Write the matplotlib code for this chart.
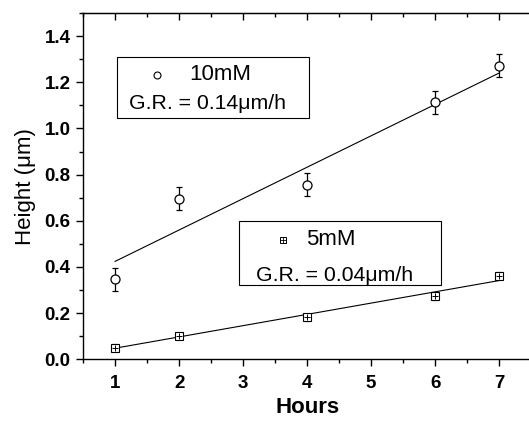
import numpy as np
import matplotlib.pyplot as plt
from matplotlib.patches import Rectangle
from matplotlib.ticker import MultipleLocator

plt.rcParams['font.family'] = ['Liberation Sans', 'DejaVu Sans']

# data
hours = [1, 2, 4, 6, 7]
h10 = [0.347, 0.696, 0.756, 1.114, 1.272]
e10 = [0.05, 0.05, 0.05, 0.05, 0.05]
h5 = [0.05, 0.101, 0.182, 0.272, 0.362]
e5 = [0.015, 0.015, 0.015, 0.015, 0.015]

# linear fits (end points)
fit_x = [1, 7]
fit10 = [0.424, 1.24]
fit5 = [0.048, 0.341]

fig = plt.figure(figsize=(5.29, 4.21), dpi=100)
ax = fig.add_axes([0.157, 0.1466, 0.847, 0.8225])

ax.errorbar(hours, h10, yerr=e10, fmt='o', mfc='white', mec='black', ms=6.5,
            mew=0.9, ecolor='black', elinewidth=0.9, capsize=2.5, capthick=0.9)
ax.errorbar(hours, h5, yerr=e5, fmt='s', mfc='white', mec='black', ms=5.5,
            mew=0.8, ecolor='black', elinewidth=0.9, capsize=2.5, capthick=0.9)
ax.plot(hours, h5, linestyle='none', marker='+', color='black', ms=5,
        mew=0.7, zorder=4)
ax.plot(fit_x, fit10, color='black', lw=0.8)
ax.plot(fit_x, fit5, color='black', lw=0.8)

ax.set_xlim(0.5, 7.5)
ax.set_ylim(0, 1.5)
ax.set_xticks([1, 2, 3, 4, 5, 6, 7])
ax.set_yticks([0.0, 0.2, 0.4, 0.6, 0.8, 1.0, 1.2, 1.4])
ax.set_yticklabels(['0.0', '0.2', '0.4', '0.6', '0.8', '1.0', '1.2', '1.4'])
ax.xaxis.set_minor_locator(MultipleLocator(0.5))
ax.yaxis.set_minor_locator(MultipleLocator(0.1))
ax.tick_params(axis='x', which='both', direction='out', top=False, pad=6)
ax.tick_params(axis='y', which='both', direction='out', right=False, pad=4)
ax.tick_params(which='major', length=5, width=1)
ax.tick_params(which='minor', length=3, width=1)
for s in ax.spines.values():
    s.set_linewidth(1)

# top axis with inward ticks
sec = ax.secondary_xaxis('top')
sec.set_xticks([1, 2, 3, 4, 5, 6, 7])
sec.xaxis.set_minor_locator(MultipleLocator(0.5))
sec.tick_params(which='both', direction='in', labeltop=False)
sec.tick_params(which='major', length=5, width=1)
sec.tick_params(which='minor', length=3, width=1)

for lab in ax.get_xticklabels() + ax.get_yticklabels():
    lab.set_fontweight('bold')
    lab.set_fontsize(13.5)
ax.set_xlabel('Hours', fontsize=16, fontweight='bold', labelpad=4)
ax.set_ylabel('Height (μm)', fontsize=16, labelpad=6)

# annotation boxes
ax.add_patch(Rectangle((0.076, 0.697), 0.428, 0.176, transform=ax.transAxes,
                       fill=False, lw=0.8, ec='black'))
ax.plot([0.165], [0.821], marker='o', mfc='white', mec='black', ms=5, mew=0.8,
        transform=ax.transAxes)
ax.text(0.237, 0.821, '10mM', transform=ax.transAxes, fontsize=16, va='center')
ax.text(0.103, 0.738, 'G.R. = 0.14μm/h', transform=ax.transAxes, fontsize=15.3,
        va='center')

ax.add_patch(Rectangle((0.348, 0.215), 0.451, 0.184, transform=ax.transAxes,
                       fill=False, lw=0.8, ec='black'))
ax.plot([0.447], [0.345], marker='s', mfc='white', mec='black', ms=4.5,
        mew=0.7, transform=ax.transAxes)
ax.plot([0.447], [0.345], marker='+', color='black', ms=4.5, mew=0.6,
        transform=ax.transAxes)
ax.text(0.498, 0.345, '5mM', transform=ax.transAxes, fontsize=16, va='center')
ax.text(0.386, 0.242, 'G.R. = 0.04μm/h', transform=ax.transAxes, fontsize=15.3,
        va='center')

fig.savefig('out.png', dpi=100)
